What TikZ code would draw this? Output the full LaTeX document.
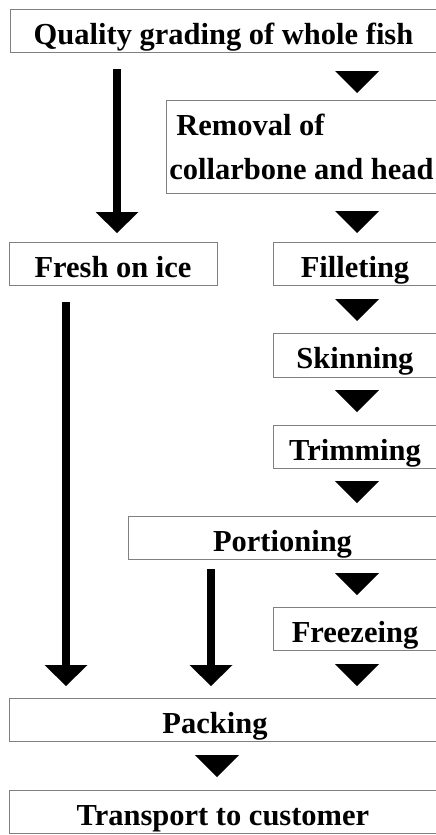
\documentclass[tikz,border=0pt]{standalone}
\usepackage{fontspec}
\setmainfont{Liberation Serif}
\usetikzlibrary{arrows.meta}
\definecolor{boxgray}{RGB}{128,128,128}
\tikzset{
  stepbox/.style={draw=boxgray, line width=1pt, fill=white, inner sep=0pt,
    font=\fontsize{30.5}{44}\selectfont\bfseries, text=black},
  onebox/.style={stepbox, text height=30pt, text depth=3pt},
  bigarrow/.style={line width=8pt, -{Triangle[width=43pt,length=21pt,line width=0pt]}},
  triarrow/.style={line width=0.5pt, -{Triangle[width=44pt,length=22pt,line width=0pt]}},
}
\begin{document}
\begin{tikzpicture}[x=1pt,y=-1pt]
\useasboundingbox (0,0) rectangle (436,835);
\clip (0,0) rectangle (436,835);
\fill[white] (0,0) rectangle (436,835);

\node[onebox, minimum width=427pt, minimum height=43pt] (top) at (223.5,30.5) {Quality grading of whole fish};
\node[stepbox, minimum width=271pt, minimum height=93pt, align=left] (rem) at (301.5,146.5) {\hspace*{7pt}Removal of\\collarbone and head};
\node[onebox, minimum width=208pt, minimum height=43pt] (fresh) at (113,263.5) {Fresh on ice};
\node[onebox, minimum width=164pt, minimum height=43pt] (fil) at (355,263.5) {Filleting};
\node[onebox, minimum width=164pt, minimum height=44pt] (skin) at (355,355) {Skinning};
\node[onebox, minimum width=164pt, minimum height=43pt] (trim) at (355,446.5) {Trimming};
\node[onebox, minimum width=309pt, minimum height=43pt] (por) at (282.5,537.5) {Portioning};
\node[onebox, minimum width=164pt, minimum height=43pt] (frz) at (355,628.5) {Freezeing};
\node[onebox, minimum width=428pt, minimum height=43pt] (pack) at (223,719.5) {Packing\hspace*{16pt}};
\node[onebox, minimum width=428pt, minimum height=43pt] (trans) at (223,811.5) {Transport to customer};

% connector ends
\coordinate (a1s) at (117,69);  \coordinate (a1e) at (117,233);
\coordinate (a2s) at (357,71);  \coordinate (a2e) at (357,93);
\coordinate (a3s) at (357,212); \coordinate (a3e) at (357,233);
\coordinate (a4s) at (66,302);  \coordinate (a4e) at (66,686);
\coordinate (a5s) at (357,299); \coordinate (a5e) at (357,321);
\coordinate (a6s) at (357,391); \coordinate (a6e) at (357,412);
\coordinate (a7s) at (357,482); \coordinate (a7e) at (357,503);
\coordinate (a8s) at (357,573); \coordinate (a8e) at (357,595);
\coordinate (a9s) at (211,569); \coordinate (a9e) at (211,686);
\coordinate (a10s) at (357,664); \coordinate (a10e) at (357,686);
\coordinate (a11s) at (217,756); \coordinate (a11e) at (217,777);

\draw[bigarrow] (a1s) -- (a1e);
\draw[triarrow] (a2s) -- (a2e);
\draw[triarrow] (a3s) -- (a3e);
\draw[bigarrow] (a4s) -- (a4e);
\draw[triarrow] (a5s) -- (a5e);
\draw[triarrow] (a6s) -- (a6e);
\draw[triarrow] (a7s) -- (a7e);
\draw[triarrow] (a8s) -- (a8e);
\draw[bigarrow] (a9s) -- (a9e);
\draw[triarrow] (a10s) -- (a10e);
\draw[triarrow] (a11s) -- (a11e);
\end{tikzpicture}
\end{document}
